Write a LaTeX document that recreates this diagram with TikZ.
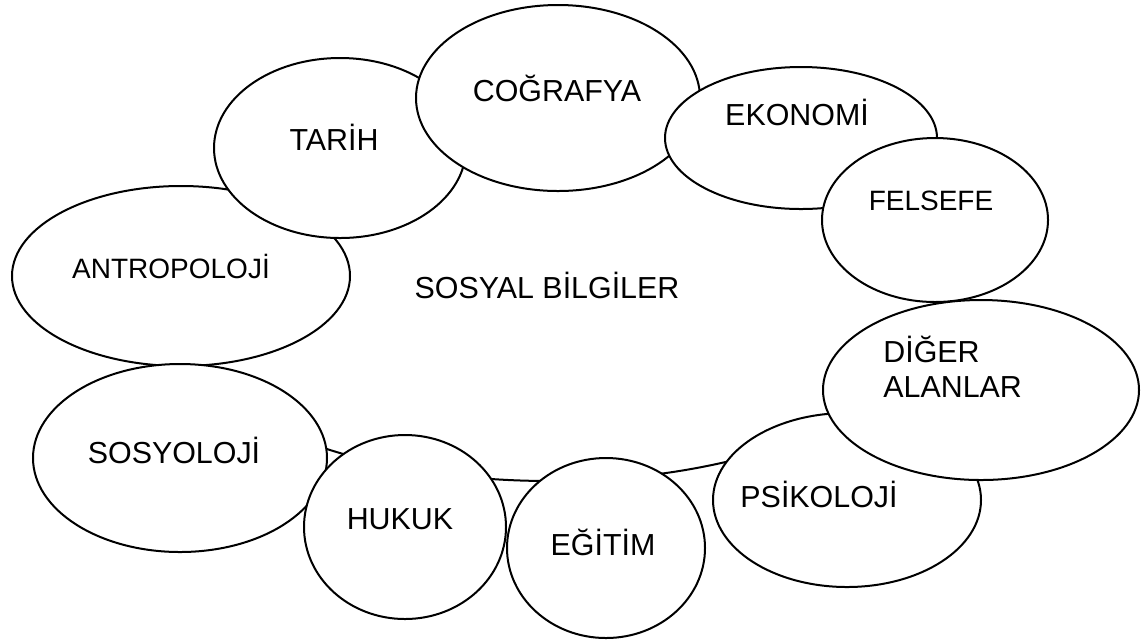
\documentclass[tikz,border=0pt]{standalone}
\usepackage{fontspec}
\setmainfont{Liberation Sans}
\usetikzlibrary{shapes.geometric}
\tikzset{
  oval/.style={draw,ellipse,fill=white,line width=1pt,inner sep=0pt,outer sep=0pt},
  lbl/.style={font=\fontsize{15.2}{17.5}\selectfont,inner sep=0pt,anchor=base},  % 12pt in the original
  slbl/.style={lbl,font=\fontsize{14}{16}\selectfont}                        % 11pt in the original
}

\begin{document}
\begin{tikzpicture}[x=0.5pt,y=-0.5pt]
  \useasboundingbox (0,0) rectangle (1144,639);

  \node[oval,minimum width=387pt,minimum height=175pt] (sosyal) at (550,306) {};
  \node[lbl] (sosyal-t) at (547,298) {SOSYAL BİLGİLER};

  \node[oval,minimum width=169pt,minimum height=90pt] (antro) at (181,276) {};
  \node[slbl] (antro-t) at (171,278) {ANTROPOLOJİ};
  \node[oval,minimum width=147pt,minimum height=94pt] (sosyo) at (180,458) {};
  \node[lbl] (sosyo-t) at (174,463) {SOSYOLOJİ};
  \node[oval,minimum width=126pt,minimum height=90pt] (tarih) at (340,148) {};
  \node[lbl] (tarih-t) at (334,150) {TARİH};
  \node[oval,minimum width=142pt,minimum height=93pt] (cografya) at (558,98) {};
  \node[lbl] (cografya-t) at (557,101) {COĞRAFYA};
  \node[oval,minimum width=136pt,minimum height=71pt] (ekonomi) at (801,138) {};
  \node[lbl] (ekonomi-t) at (797,125) {EKONOMİ};
  \node[oval,minimum width=113pt,minimum height=82pt] (felsefe) at (935,220) {};
  \node[slbl] (felsefe-t) at (931,210) {FELSEFE};
  \node[oval,minimum width=134pt,minimum height=87pt] (psiko) at (847,500) {};
  \node[lbl] (psiko-t) at (819,507) {PSİKOLOJİ};
  \node[oval,minimum width=158pt,minimum height=90pt] (diger) at (981,390) {};
  \node[lbl,anchor=base west,align=left] (diger-t) at (883,397) {DİĞER\\ALANLAR};
  \node[oval,minimum width=101pt,minimum height=92pt] (hukuk) at (405,527) {};
  \node[lbl] (hukuk-t) at (400,529) {HUKUK};
  \node[oval,minimum width=99pt,minimum height=90pt] (egitim) at (606,548) {};
  \node[lbl] (egitim-t) at (603,555) {EĞİTİM};
\end{tikzpicture}
\end{document}
